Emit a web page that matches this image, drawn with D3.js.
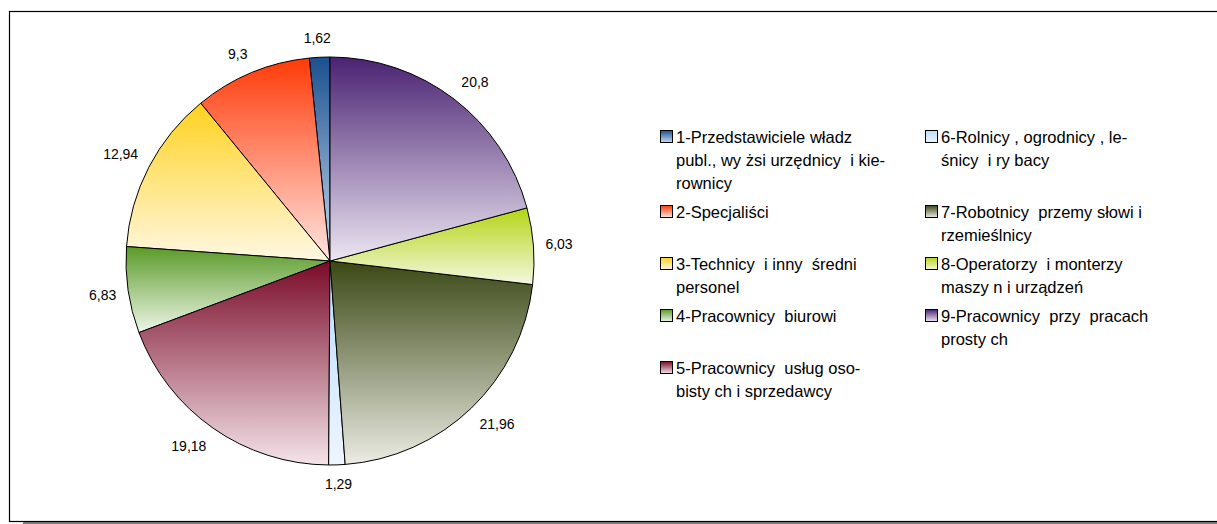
<!DOCTYPE html>
<html><head><meta charset="utf-8">
<script src="https://cdn.jsdelivr.net/npm/d3@7"></script>
<style>
html,body{margin:0;padding:0;background:#fff;}
svg text{font-family:"Liberation Sans",Arial,sans-serif;white-space:pre;}
</style></head><body>
<svg id="chart" width="1217" height="524"></svg>
<script>
const categories = [
  ["1-Przedstawiciele władz", "publ., wy żsi urzędnicy  i kie-", "rownicy"],
  ["2-Specjaliści"],
  ["3-Technicy  i inny  średni", "personel"],
  ["4-Pracownicy  biurowi"],
  ["5-Pracownicy  usług oso-", "bisty ch i sprzedawcy"],
  ["6-Rolnicy , ogrodnicy , le-", "śnicy  i ry bacy"],
  ["7-Robotnicy  przemy słowi i", "rzemieślnicy"],
  ["8-Operatorzy  i monterzy", "maszy n i urządzeń"],
  ["9-Pracownicy  przy  pracach", "prosty ch"]
];
const values = [1.62, 9.3, 12.94, 6.83, 19.18, 1.29, 21.96, 6.03, 20.8];
const valueLabels = ["1,62", "9,3", "12,94", "6,83", "19,18", "1,29", "21,96", "6,03", "20,8"];
const topColors = ["#1b4f8e", "#ff3a08", "#ffd21e", "#5a9a28", "#7a0a28", "#b8dcff", "#3a4814", "#b4d414", "#4a2272"];
const bottomColors = ["#c8dcf0", "#ffe6e2", "#fff8e4", "#eef6e8", "#f4e4ea", "#eef6ff", "#ecece4", "#f4f8e0", "#ece6f2"];

const svg = d3.select("#chart");
const W = 1217, H = 524;

// frame
svg.append("rect").attr("x", 23).attr("y", 522).attr("width", W - 23).attr("height", 3).attr("fill", "#808080");
svg.append("rect").attr("x", 9.5).attr("y", 11.5).attr("width", W).attr("height", 510)
  .attr("fill", "#fff").attr("stroke", "#000").attr("stroke-width", 1.2);

const defs = svg.append("defs");
values.forEach((v, i) => {
  const g = defs.append("linearGradient").attr("id", "grad" + i)
    .attr("x1", 0).attr("y1", 0).attr("x2", 0).attr("y2", 1);
  g.append("stop").attr("offset", "0%").attr("stop-color", topColors[i]);
  g.append("stop").attr("offset", "100%").attr("stop-color", bottomColors[i]);
});

const cx = 330, cy = 261, R = 204;
const pie = d3.pie().sort(null).startAngle(0).endAngle(-2 * Math.PI).value(d => d);
const arcs = pie(values);
const arc = d3.arc().innerRadius(0).outerRadius(R);

const gPie = svg.append("g").attr("transform", `translate(${cx},${cy})`);
gPie.selectAll("path").data(arcs).join("path")
  .attr("d", arc)
  .attr("fill", (d, i) => `url(#grad${i})`)
  .attr("stroke", "#000").attr("stroke-width", 1).attr("stroke-linejoin", "round");

// value labels
const fs = 14;
const gap = 12;
const clamp = v => Math.max(-1, Math.min(1, v));
gPie.selectAll("text.val").data(arcs).join("text")
  .attr("class", "val")
  .attr("font-size", fs)
  .attr("fill", "#000")
  .attr("text-anchor", "middle")
  .attr("dominant-baseline", "central")
  .text((d, i) => valueLabels[i])
  .each(function (d) {
    const a = (d.startAngle + d.endAngle) / 2;
    const s = Math.sin(a), c = Math.cos(a);
    const w = this.getComputedTextLength();
    const h = 15;
    const x = s * (R + gap) + clamp(s * 2.5) * w / 2;
    const y = -c * (R + gap) - clamp(c * 2.5) * h / 2;
    d3.select(this).attr("x", x).attr("y", y);
  });

// legend
const colX = [660, 925];
const lineH = 23, rowGap = 6, legendTop = 137, lfs = 16.5;
const nRows = 5;
let y = legendTop;
for (let r = 0; r < nRows; r++) {
  const items = [r, r + 5].filter(i => i < categories.length);
  let maxLines = 0;
  items.forEach((i, ci) => {
    const lines = categories[i];
    maxLines = Math.max(maxLines, lines.length);
    const g = svg.append("g").attr("transform", `translate(${colX[ci]},${y})`);
    g.append("rect").attr("x", 0.5).attr("y", -6.5).attr("width", 12).attr("height", 12)
      .attr("fill", `url(#grad${i})`).attr("stroke", "#000").attr("stroke-width", 1);
    lines.forEach((t, li) => {
      g.append("text").attr("x", 16).attr("y", li * lineH)
        .attr("dominant-baseline", "central")
        .attr("font-size", lfs).attr("fill", "#000").text(t);
    });
  });
  y += maxLines * lineH + rowGap;
}
</script>
</body></html>
